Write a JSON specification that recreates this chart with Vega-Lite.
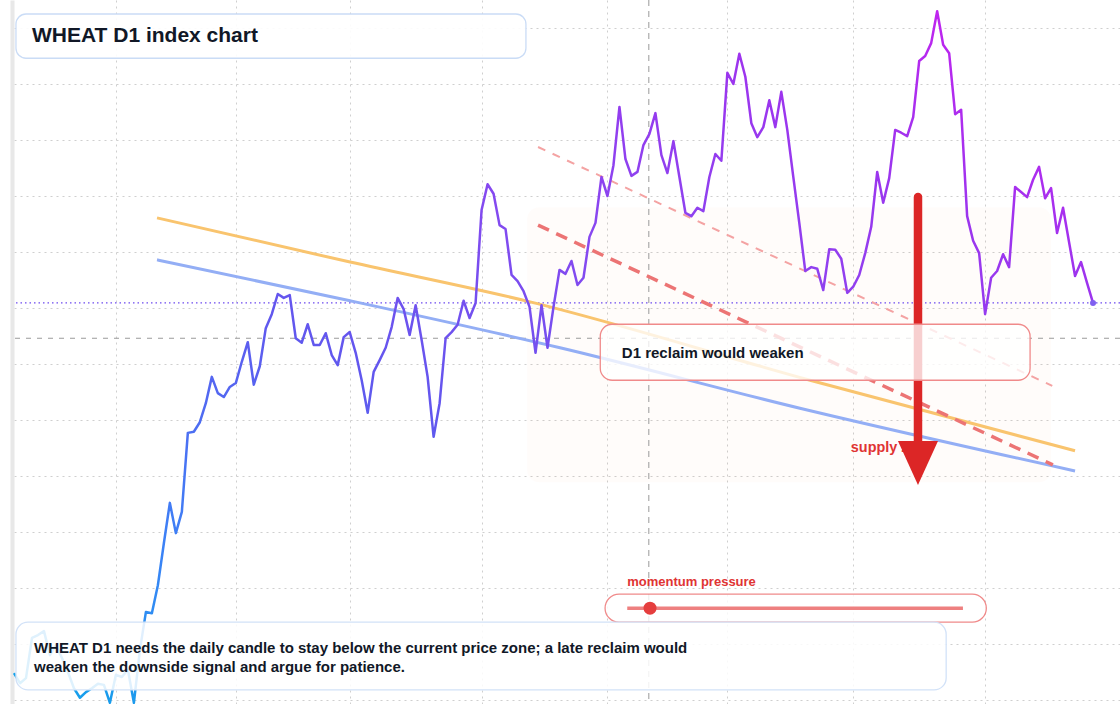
{
  "$schema": "https://vega.github.io/schema/vega-lite/v6.json",
  "width": 1106,
  "height": 704,
  "autosize": {"type": "none"},
  "padding": {"left": 14, "top": 0, "right": 0, "bottom": 0},
  "background": "white",
  "config": {"font": "Liberation Sans", "view": {"stroke": null}},
  "datasets": {
    "price": [
      {"i": 0, "p": 524.8}, {"i": 1, "p": 523.0}, {"i": 2, "p": 523.9}, {"i": 3, "p": 531.1}, {"i": 4, "p": 531.6},
      {"i": 5, "p": 532.3}, {"i": 6, "p": 528.0}, {"i": 7, "p": 529.8}, {"i": 8, "p": 527.5}, {"i": 9, "p": 525.0},
      {"i": 10, "p": 522.1}, {"i": 11, "p": 520.4}, {"i": 12, "p": 521.4}, {"i": 13, "p": 522.1}, {"i": 14, "p": 522.9},
      {"i": 15, "p": 522.7}, {"i": 16, "p": 519.5}, {"i": 17, "p": 524.5}, {"i": 18, "p": 524.1}, {"i": 19, "p": 525.4},
      {"i": 20, "p": 519.5}, {"i": 21, "p": 528.9}, {"i": 22, "p": 535.7}, {"i": 23, "p": 535.5}, {"i": 24, "p": 540.5},
      {"i": 25, "p": 548.0}, {"i": 26, "p": 555.2}, {"i": 27, "p": 549.8}, {"i": 28, "p": 553.6}, {"i": 29, "p": 567.7},
      {"i": 30, "p": 567.9}, {"i": 31, "p": 569.6}, {"i": 32, "p": 573.0}, {"i": 33, "p": 577.7}, {"i": 34, "p": 574.8},
      {"i": 35, "p": 574.1}, {"i": 36, "p": 575.9}, {"i": 37, "p": 576.6}, {"i": 38, "p": 580.4}, {"i": 39, "p": 583.9},
      {"i": 40, "p": 576.3}, {"i": 41, "p": 579.6}, {"i": 42, "p": 586.4}, {"i": 43, "p": 588.9}, {"i": 44, "p": 592.5},
      {"i": 45, "p": 591.8}, {"i": 46, "p": 592.3}, {"i": 47, "p": 584.6}, {"i": 48, "p": 583.8}, {"i": 49, "p": 587.1},
      {"i": 50, "p": 583.4}, {"i": 51, "p": 583.4}, {"i": 52, "p": 585.5}, {"i": 53, "p": 581.6}, {"i": 54, "p": 579.8},
      {"i": 55, "p": 584.8}, {"i": 56, "p": 585.7}, {"i": 57, "p": 582.0}, {"i": 58, "p": 577.1}, {"i": 59, "p": 571.3},
      {"i": 60, "p": 578.6}, {"i": 61, "p": 580.7}, {"i": 62, "p": 582.9}, {"i": 63, "p": 586.6}, {"i": 64, "p": 591.8},
      {"i": 65, "p": 589.8}, {"i": 66, "p": 585.2}, {"i": 67, "p": 590.5}, {"i": 68, "p": 584.3}, {"i": 69, "p": 577.7},
      {"i": 70, "p": 567.0}, {"i": 71, "p": 573.0}, {"i": 72, "p": 584.6}, {"i": 73, "p": 585.7}, {"i": 74, "p": 587.0},
      {"i": 75, "p": 591.3}, {"i": 76, "p": 588.2}, {"i": 77, "p": 590.9}, {"i": 78, "p": 607.5}, {"i": 79, "p": 612.1},
      {"i": 80, "p": 610.4}, {"i": 81, "p": 604.8}, {"i": 82, "p": 604.1}, {"i": 83, "p": 595.9}, {"i": 84, "p": 594.8},
      {"i": 85, "p": 593.0}, {"i": 86, "p": 590.2}, {"i": 87, "p": 582.0}, {"i": 88, "p": 590.5}, {"i": 89, "p": 582.9},
      {"i": 90, "p": 590.2}, {"i": 91, "p": 596.8}, {"i": 92, "p": 596.1}, {"i": 93, "p": 598.4}, {"i": 94, "p": 594.1},
      {"i": 95, "p": 595.4}, {"i": 96, "p": 602.7}, {"i": 97, "p": 605.2}, {"i": 98, "p": 613.4}, {"i": 99, "p": 610.0},
      {"i": 100, "p": 615.5}, {"i": 101, "p": 625.9}, {"i": 102, "p": 616.6}, {"i": 103, "p": 613.6}, {"i": 104, "p": 614.3},
      {"i": 105, "p": 619.1}, {"i": 106, "p": 621.1}, {"i": 107, "p": 624.8}, {"i": 108, "p": 617.3}, {"i": 109, "p": 614.1},
      {"i": 110, "p": 619.8}, {"i": 111, "p": 613.4}, {"i": 112, "p": 607.0}, {"i": 113, "p": 606.4}, {"i": 114, "p": 607.9},
      {"i": 115, "p": 607.3}, {"i": 116, "p": 613.4}, {"i": 117, "p": 617.5}, {"i": 118, "p": 616.3}, {"i": 119, "p": 632.0},
      {"i": 120, "p": 630.0}, {"i": 121, "p": 635.4}, {"i": 122, "p": 631.3}, {"i": 123, "p": 623.0}, {"i": 124, "p": 620.5},
      {"i": 125, "p": 622.3}, {"i": 126, "p": 627.1}, {"i": 127, "p": 622.3}, {"i": 128, "p": 628.6}, {"i": 129, "p": 621.8},
      {"i": 130, "p": 613.4}, {"i": 131, "p": 605.2}, {"i": 132, "p": 596.6}, {"i": 133, "p": 597.3}, {"i": 134, "p": 597.0},
      {"i": 135, "p": 593.2}, {"i": 136, "p": 600.5}, {"i": 137, "p": 600.4}, {"i": 138, "p": 598.8}, {"i": 139, "p": 592.7},
      {"i": 140, "p": 593.8}, {"i": 141, "p": 595.9}, {"i": 142, "p": 599.8}, {"i": 143, "p": 604.5}, {"i": 144, "p": 614.3},
      {"i": 145, "p": 608.8}, {"i": 146, "p": 613.2}, {"i": 147, "p": 621.8}, {"i": 148, "p": 621.3}, {"i": 149, "p": 620.7},
      {"i": 150, "p": 624.1}, {"i": 151, "p": 634.1}, {"i": 152, "p": 635.0}, {"i": 153, "p": 637.3}, {"i": 154, "p": 643.0},
      {"i": 155, "p": 637.0}, {"i": 156, "p": 635.5}, {"i": 157, "p": 624.6}, {"i": 158, "p": 625.4}, {"i": 159, "p": 606.4},
      {"i": 160, "p": 602.0}, {"i": 161, "p": 599.8}, {"i": 162, "p": 588.9}, {"i": 163, "p": 595.4}, {"i": 164, "p": 596.6},
      {"i": 165, "p": 599.6}, {"i": 166, "p": 597.3}, {"i": 167, "p": 611.6}, {"i": 168, "p": 610.7}, {"i": 169, "p": 609.8},
      {"i": 170, "p": 612.9}, {"i": 171, "p": 615.2}, {"i": 172, "p": 609.6}, {"i": 173, "p": 611.4}, {"i": 174, "p": 603.4},
      {"i": 175, "p": 607.9}, {"i": 176, "p": 601.8}, {"i": 177, "p": 595.7}, {"i": 178, "p": 598.2}, {"i": 179, "p": 594.5},
      {"i": 180, "p": 590.9}
    ],
    "orange": [
      {"i": 23.86, "p": 606.1}, {"i": 56.06, "p": 598.2}, {"i": 86.09, "p": 591.1}, {"i": 132.8, "p": 577.1}, {"i": 177.0, "p": 564.5}
    ],
    "blue": [
      {"i": 23.86, "p": 598.6}, {"i": 56.06, "p": 591.3}, {"i": 91.09, "p": 582.9}, {"i": 131.1, "p": 572.1}, {"i": 177.0, "p": 560.9}
    ],
    "pink": [{"i": 87.42, "p": 618.75}, {"i": 173.2, "p": 576.1}],
    "red": [{"i": 87.42, "p": 604.8}, {"i": 173.3, "p": 562.0}]
  },
  "layer": [
    {
      "data": {"values": [{"i": 85.6, "i2": 173.0, "p": 608.0, "p2": 558.9}]},
      "mark": {"type": "rect", "fill": "#f97316", "opacity": 0.02, "cornerRadius": 12},
      "encoding": {
        "x": {
          "field": "i", "type": "quantitative", "title": null,
          "scale": {"domain": [0, 184.5], "nice": false, "zero": false},
          "axis": {
            "values": [17, 37, 56, 78, 99, 119, 140, 162],
            "labels": false, "ticks": false, "domain": false, "title": null,
            "grid": true, "gridColor": "#cfcfcf", "gridDash": [2, 4], "gridWidth": 1
          }
        },
        "x2": {"field": "i2"},
        "y": {
          "field": "p", "type": "quantitative", "title": null,
          "scale": {"domain": [519.286, 645], "nice": false, "zero": false},
          "axis": {
            "values": [520, 530, 540, 550, 560, 570, 580, 590, 600, 610, 620, 630, 640],
            "labels": false, "ticks": false, "title": null,
            "domain": true, "domainColor": "#e8e8e8", "domainWidth": 4, "offset": 2,
            "grid": true, "gridColor": "#cfcfcf", "gridDash": [2, 4], "gridWidth": 1
          }
        },
        "y2": {"field": "p2"}
      }
    },
    {
      "data": {"values": [{"p": 584.6}]},
      "mark": {"type": "rule", "color": "#9a9a9a", "strokeWidth": 1.2, "strokeDash": [5, 6]},
      "encoding": {
        "y": {"field": "p", "type": "quantitative", "title": null, "scale": {"domain": [519.286, 645], "nice": false, "zero": false}}
      }
    },
    {
      "data": {"values": [{"i": 105.9}]},
      "mark": {"type": "rule", "color": "#9a9a9a", "strokeWidth": 1, "strokeDash": [6, 5]},
      "encoding": {
        "x": {"field": "i", "type": "quantitative", "title": null, "scale": {"domain": [0, 184.5], "nice": false, "zero": false}}
      }
    },
    {
      "data": {"values": [{"p": 590.9}]},
      "mark": {"type": "rule", "color": "#6d4af0", "strokeWidth": 1.3, "strokeDash": [1.5, 3]},
      "encoding": {
        "y": {"field": "p", "type": "quantitative", "title": null, "scale": {"domain": [519.286, 645], "nice": false, "zero": false}}
      }
    },
    {
      "data": {"name": "orange"},
      "mark": {"type": "line", "color": "#f9c46e", "strokeWidth": 3, "interpolate": "monotone"},
      "encoding": {
        "x": {"field": "i", "type": "quantitative", "title": null, "scale": {"domain": [0, 184.5], "nice": false, "zero": false}},
        "y": {"field": "p", "type": "quantitative", "title": null, "scale": {"domain": [519.286, 645], "nice": false, "zero": false}}
      }
    },
    {
      "data": {"name": "blue"},
      "mark": {"type": "line", "color": "#93aef5", "strokeWidth": 3, "interpolate": "monotone"},
      "encoding": {
        "x": {"field": "i", "type": "quantitative", "title": null, "scale": {"domain": [0, 184.5], "nice": false, "zero": false}},
        "y": {"field": "p", "type": "quantitative", "title": null, "scale": {"domain": [519.286, 645], "nice": false, "zero": false}}
      }
    },
    {
      "data": {"name": "pink"},
      "mark": {"type": "line", "color": "#f4a3a3", "strokeWidth": 2, "strokeDash": [8, 8]},
      "encoding": {
        "x": {"field": "i", "type": "quantitative", "title": null, "scale": {"domain": [0, 184.5], "nice": false, "zero": false}},
        "y": {"field": "p", "type": "quantitative", "title": null, "scale": {"domain": [519.286, 645], "nice": false, "zero": false}}
      }
    },
    {
      "data": {"name": "red"},
      "mark": {"type": "line", "color": "#ec7474", "strokeWidth": 3.5, "strokeDash": [12, 8]},
      "encoding": {
        "x": {"field": "i", "type": "quantitative", "title": null, "scale": {"domain": [0, 184.5], "nice": false, "zero": false}},
        "y": {"field": "p", "type": "quantitative", "title": null, "scale": {"domain": [519.286, 645], "nice": false, "zero": false}}
      }
    },
    {
      "data": {"name": "price"},
      "mark": {
        "type": "line",
        "strokeWidth": 2.5,
        "strokeJoin": "round",
        "stroke": {
          "gradient": "linear", "x1": 0, "y1": 1, "x2": 1, "y2": 0,
          "stops": [
            {"offset": 0, "color": "#0ea5e9"},
            {"offset": 0.18, "color": "#3b82f6"},
            {"offset": 0.4, "color": "#6157ee"},
            {"offset": 0.6, "color": "#8748f0"},
            {"offset": 0.8, "color": "#9d34ee"},
            {"offset": 1, "color": "#d21cf0"}
          ]
        }
      },
      "encoding": {
        "x": {"field": "i", "type": "quantitative", "title": null, "scale": {"domain": [0, 184.5], "nice": false, "zero": false}},
        "y": {"field": "p", "type": "quantitative", "title": null, "scale": {"domain": [519.286, 645], "nice": false, "zero": false}}
      }
    },
    {
      "data": {"values": [{"i": 180, "p": 590.9}]},
      "mark": {"type": "point", "filled": true, "color": "#8060f0", "size": 36, "opacity": 1},
      "encoding": {
        "x": {"field": "i", "type": "quantitative", "title": null, "scale": {"domain": [0, 184.5], "nice": false, "zero": false}},
        "y": {"field": "p", "type": "quantitative", "title": null, "scale": {"domain": [519.286, 645], "nice": false, "zero": false}}
      }
    },
    {
      "data": {"values": [{"i": 139.6, "p": 565.0, "t": "supply zone"}]},
      "mark": {"type": "text", "align": "left", "baseline": "middle", "fontSize": 14.4, "fontWeight": "bold", "color": "#e03434"},
      "encoding": {
        "x": {"field": "i", "type": "quantitative", "title": null, "scale": {"domain": [0, 184.5], "nice": false, "zero": false}},
        "y": {"field": "p", "type": "quantitative", "title": null, "scale": {"domain": [519.286, 645], "nice": false, "zero": false}},
        "text": {"field": "t"}
      }
    },
    {
      "data": {"values": [{"i": 150.8, "p": 609.8, "p2": 564.6}]},
      "mark": {"type": "rule", "color": "#dc2626", "strokeWidth": 8.5, "strokeCap": "round"},
      "encoding": {
        "x": {"field": "i", "type": "quantitative", "title": null, "scale": {"domain": [0, 184.5], "nice": false, "zero": false}},
        "y": {"field": "p", "type": "quantitative", "title": null, "scale": {"domain": [519.286, 645], "nice": false, "zero": false}},
        "y2": {"field": "p2"}
      }
    },
    {
      "data": {"values": [{"i": 150.8, "p": 562.3}]},
      "mark": {"type": "point", "shape": "M-0.91,-1L0.91,-1L0,1Z", "size": 1936, "filled": true, "color": "#dc2626", "opacity": 1, "strokeWidth": 0},
      "encoding": {
        "x": {"field": "i", "type": "quantitative", "title": null, "scale": {"domain": [0, 184.5], "nice": false, "zero": false}},
        "y": {"field": "p", "type": "quantitative", "title": null, "scale": {"domain": [519.286, 645], "nice": false, "zero": false}}
      }
    },
    {
      "data": {"values": [{"i": 97.8, "i2": 169.5, "p": 587.1, "p2": 577.1}]},
      "mark": {"type": "rect", "fill": "white", "fillOpacity": 0.78, "stroke": "#f08a8a", "strokeWidth": 1.3, "cornerRadius": 12},
      "encoding": {
        "x": {"field": "i", "type": "quantitative", "title": null, "scale": {"domain": [0, 184.5], "nice": false, "zero": false}},
        "x2": {"field": "i2"},
        "y": {"field": "p", "type": "quantitative", "title": null, "scale": {"domain": [519.286, 645], "nice": false, "zero": false}},
        "y2": {"field": "p2"}
      }
    },
    {
      "data": {"values": [{"i": 101.4, "p": 582.0, "t": "D1 reclaim would weaken"}]},
      "mark": {"type": "text", "align": "left", "baseline": "middle", "fontSize": 15, "fontWeight": "bold", "color": "#111827"},
      "encoding": {
        "x": {"field": "i", "type": "quantitative", "title": null, "scale": {"domain": [0, 184.5], "nice": false, "zero": false}},
        "y": {"field": "p", "type": "quantitative", "title": null, "scale": {"domain": [519.286, 645], "nice": false, "zero": false}},
        "text": {"field": "t"}
      }
    },
    {
      "data": {"values": [{"i": 98.6, "i2": 162.2, "p": 538.9, "p2": 533.9}]},
      "mark": {"type": "rect", "fill": "white", "fillOpacity": 0.8, "stroke": "#f08a8a", "strokeWidth": 1.3, "cornerRadius": 14},
      "encoding": {
        "x": {"field": "i", "type": "quantitative", "title": null, "scale": {"domain": [0, 184.5], "nice": false, "zero": false}},
        "x2": {"field": "i2"},
        "y": {"field": "p", "type": "quantitative", "title": null, "scale": {"domain": [519.286, 645], "nice": false, "zero": false}},
        "y2": {"field": "p2"}
      }
    },
    {
      "data": {"values": [{"i": 102.3, "i2": 158.3, "p": 536.4}]},
      "mark": {"type": "rule", "color": "#ee8080", "strokeWidth": 3.5},
      "encoding": {
        "x": {"field": "i", "type": "quantitative", "title": null, "scale": {"domain": [0, 184.5], "nice": false, "zero": false}},
        "x2": {"field": "i2"},
        "y": {"field": "p", "type": "quantitative", "title": null, "scale": {"domain": [519.286, 645], "nice": false, "zero": false}}
      }
    },
    {
      "data": {"values": [{"i": 106.1, "p": 536.4}]},
      "mark": {"type": "point", "shape": "circle", "filled": true, "color": "#e53e3e", "size": 169, "opacity": 1},
      "encoding": {
        "x": {"field": "i", "type": "quantitative", "title": null, "scale": {"domain": [0, 184.5], "nice": false, "zero": false}},
        "y": {"field": "p", "type": "quantitative", "title": null, "scale": {"domain": [519.286, 645], "nice": false, "zero": false}}
      }
    },
    {
      "data": {"values": [{"i": 102.3, "p": 541.1, "t": "momentum pressure"}]},
      "mark": {"type": "text", "align": "left", "baseline": "middle", "fontSize": 13, "fontWeight": "bold", "color": "#e03434"},
      "encoding": {
        "x": {"field": "i", "type": "quantitative", "title": null, "scale": {"domain": [0, 184.5], "nice": false, "zero": false}},
        "y": {"field": "p", "type": "quantitative", "title": null, "scale": {"domain": [519.286, 645], "nice": false, "zero": false}},
        "text": {"field": "t"}
      }
    },
    {
      "data": {"values": [{"i": 0.33, "i2": 155.5, "p": 533.9, "p2": 521.8}]},
      "mark": {"type": "rect", "fill": "white", "fillOpacity": 0.86, "stroke": "#d2e2f8", "strokeWidth": 1.3, "cornerRadius": 12},
      "encoding": {
        "x": {"field": "i", "type": "quantitative", "title": null, "scale": {"domain": [0, 184.5], "nice": false, "zero": false}},
        "x2": {"field": "i2"},
        "y": {"field": "p", "type": "quantitative", "title": null, "scale": {"domain": [519.286, 645], "nice": false, "zero": false}},
        "y2": {"field": "p2"}
      }
    },
    {
      "data": {"values": [
        {"i": 3.34, "p": 529.3, "t": "WHEAT D1 needs the daily candle to stay below the current price zone; a late reclaim would"},
        {"i": 3.34, "p": 525.9, "t": "weaken the downside signal and argue for patience."}
      ]},
      "mark": {"type": "text", "align": "left", "baseline": "middle", "fontSize": 15, "fontWeight": "bold", "color": "#111827"},
      "encoding": {
        "x": {"field": "i", "type": "quantitative", "title": null, "scale": {"domain": [0, 184.5], "nice": false, "zero": false}},
        "y": {"field": "p", "type": "quantitative", "title": null, "scale": {"domain": [519.286, 645], "nice": false, "zero": false}},
        "text": {"field": "t"}
      }
    },
    {
      "data": {"values": [{"i": 0.33, "i2": 85.4, "p": 642.5, "p2": 634.6}]},
      "mark": {"type": "rect", "fill": "white", "fillOpacity": 0.92, "stroke": "#cadcf6", "strokeWidth": 1.3, "cornerRadius": 10},
      "encoding": {
        "x": {"field": "i", "type": "quantitative", "title": null, "scale": {"domain": [0, 184.5], "nice": false, "zero": false}},
        "x2": {"field": "i2"},
        "y": {"field": "p", "type": "quantitative", "title": null, "scale": {"domain": [519.286, 645], "nice": false, "zero": false}},
        "y2": {"field": "p2"}
      }
    },
    {
      "data": {"values": [{"i": 3.0, "p": 638.6, "t": "WHEAT D1 index chart"}]},
      "mark": {"type": "text", "align": "left", "baseline": "middle", "fontSize": 21, "fontWeight": "bold", "color": "#111827"},
      "encoding": {
        "x": {"field": "i", "type": "quantitative", "title": null, "scale": {"domain": [0, 184.5], "nice": false, "zero": false}},
        "y": {"field": "p", "type": "quantitative", "title": null, "scale": {"domain": [519.286, 645], "nice": false, "zero": false}},
        "text": {"field": "t"}
      }
    }
  ]
}
